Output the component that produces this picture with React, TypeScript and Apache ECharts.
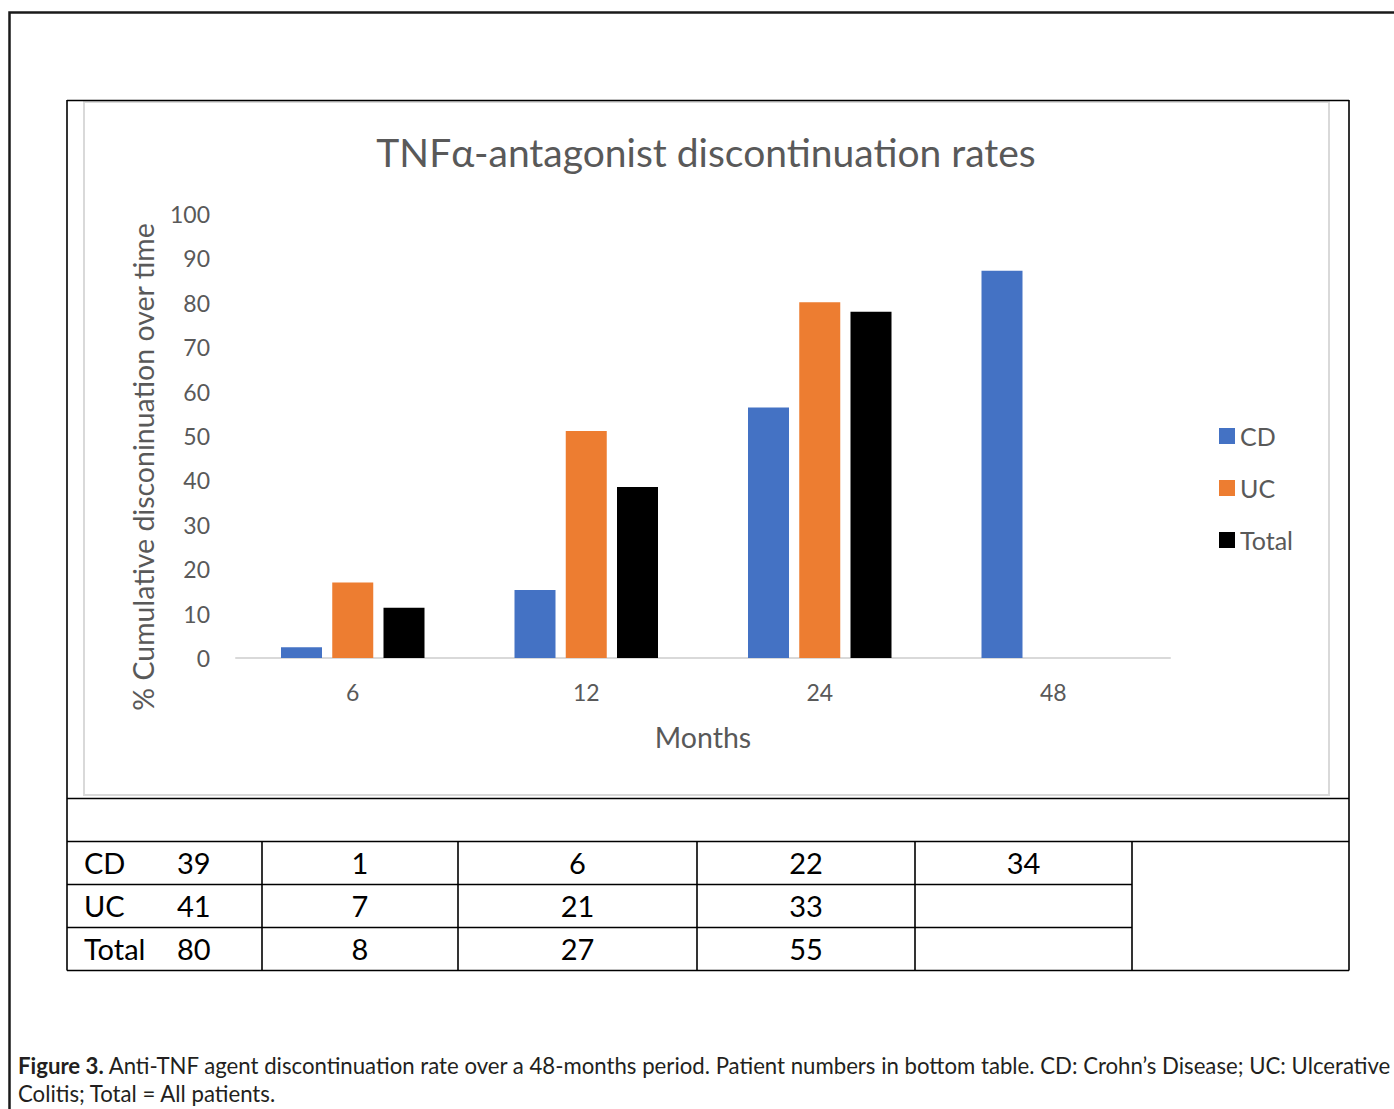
import React, { useEffect, useRef } from "react";
import * as echarts from "echarts";

// ---- data ----
const months = ["6", "12", "24", "48"];
const cdRates = [2.4, 15.3, 56.4, 87.2];
const ucRates = [17.0, 51.1, 80.1, null];
const totalRates = [11.3, 38.5, 78.0, null];

const yTicks = { min: 0, max: 100, interval: 10 };

const tableRowLabels = ["CD", "UC", "Total"];
const tableRowTotals = [39, 41, 80];
const cdCounts = [1, 6, 22, 34];
const ucCounts = [7, 21, 33, null];
const totalCounts = [8, 27, 55, null];

const titleText = "TNF\u03b1-antagonist discontinuation rates";
const yAxisName = "% Cumulative disconinuation over time";
const xAxisName = "Months";
const captionBold = "Figure 3.";
const captionLine1 =
  " Anti-TNF agent discontinuation rate over a 48-months period. Patient numbers in bottom table. CD: Crohn\u2019s Disease; UC: Ulcerative";
const captionLine2 = "Colitis; Total = All patients.";

const CHART_FONT = "Lato";
const GRAY = "#595959";

export default function App() {
  const ref = useRef<HTMLDivElement>(null);

  useEffect(() => {
    if (!ref.current) return;
    const chart = echarts.init(ref.current, null, { renderer: "svg" });

    const black = "#000000";
    const line = (x1: number, y1: number, x2: number, y2: number, w = 1.6, c = black) => ({
      type: "line",
      shape: { x1, y1, x2, y2 },
      style: { stroke: c, lineWidth: w },
      silent: true,
      z: 1,
    });
    const text = (t: string, x: number, y: number, align: string, size: number, color = black, font = CHART_FONT) => ({
      type: "text",
      x,
      y,
      style: { text: t, fontSize: size, fontFamily: font, fill: color, align, verticalAlign: "middle" },
      silent: true,
      z: 2,
    });

    const colX = [67, 262, 458, 697, 915, 1132, 1349];
    const rowY = [841, 884, 927, 970];
    const countRows = [cdCounts, ucCounts, totalCounts];

    const graphics: any[] = [
      // outer frame
      { type: "rect", shape: { x: 9.5, y: 12.5, width: 1420, height: 1200 }, style: { fill: "none", stroke: "#1a1a1a", lineWidth: 2.5 }, silent: true, z: 0 },
      // light gray chart area border
      { type: "rect", shape: { x: 84, y: 102, width: 1245, height: 693 }, style: { fill: "none", stroke: "#d9d9d9", lineWidth: 2 }, silent: true, z: 0 },
      // black box
      line(67, 100.5, 1349, 100.5),
      line(67, 100, 67, 970.5),
      line(1349, 100, 1349, 970.5),
      line(67, 798.5, 1349, 798.5),
      line(67, 841.5, 1349, 841.5),
      line(67, 884.5, 1132, 884.5),
      line(67, 927.5, 1132, 927.5),
      line(67, 970.5, 1349, 970.5),
      line(262, 841, 262, 970.5),
      line(458, 841, 458, 970.5),
      line(697, 841, 697, 970.5),
      line(915, 841, 915, 970.5),
      line(1132, 841, 1132, 970.5),
    ];

    for (let r = 0; r < tableRowLabels.length; r++) {
      const cy = (rowY[r] + rowY[r + 1]) / 2;
      graphics.push(text(tableRowLabels[r], 84, cy, "left", 29));
      graphics.push(text(String(tableRowTotals[r]), 177, cy, "left", 29));
      const counts = countRows[r];
      for (let c = 0; c < counts.length; c++) {
        const v = counts[c];
        if (v === null || v === undefined) continue;
        graphics.push(text(String(v), (colX[c + 1] + colX[c + 2]) / 2, cy, "center", 29));
      }
    }

    // caption
    graphics.push({
      type: "text",
      x: 18,
      y: 1065,
      style: {
        text: "{b|" + captionBold + "}" + captionLine1,
        fontSize: 22.2,
        fontFamily: CHART_FONT,
        fill: "#231f20",
        align: "left",
        verticalAlign: "middle",
        rich: { b: { fontWeight: "bold", fontSize: 22.2, fontFamily: CHART_FONT, fill: "#231f20" } },
      },
      silent: true,
      z: 2,
    });
    graphics.push(text(captionLine2, 18, 1093, "left", 22.2, "#231f20"));

    chart.setOption({
      animation: false,
      backgroundColor: "#ffffff",
      title: {
        text: titleText,
        left: 706,
        textAlign: "center",
        top: 130,
        padding: 0,
        textStyle: { fontFamily: CHART_FONT, fontSize: 39, fontWeight: "normal", color: GRAY, lineHeight: 44 },
      },
      legend: {
        orient: "vertical",
        left: 1219,
        top: 423,
        padding: 0,
        icon: "rect",
        itemWidth: 16,
        itemHeight: 16,
        itemGap: 26,
        textStyle: { fontFamily: CHART_FONT, fontSize: 25, color: GRAY, lineHeight: 26 },
        data: ["CD", "UC", "Total"],
      },
      grid: { left: 236, right: 224, top: 214, bottom: 451, containLabel: false },
      xAxis: {
        type: "category",
        data: months,
        axisLine: { show: true, lineStyle: { color: "#d9d9d9", width: 2 } },
        axisTick: { show: false },
        axisLabel: { fontFamily: CHART_FONT, fontSize: 23, color: GRAY, margin: 22 },
        name: xAxisName,
        nameLocation: "middle",
        nameGap: 64,
        nameTextStyle: { fontFamily: CHART_FONT, fontSize: 28.5, color: GRAY },
      },
      yAxis: {
        type: "value",
        min: yTicks.min,
        max: yTicks.max,
        interval: yTicks.interval,
        axisLine: { show: false },
        axisTick: { show: false },
        splitLine: { show: false },
        axisLabel: { fontFamily: CHART_FONT, fontSize: 23, color: GRAY, margin: 26 },
        name: yAxisName,
        nameLocation: "middle",
        nameGap: 79,
        nameTextStyle: { fontFamily: CHART_FONT, fontSize: 28.5, color: GRAY, padding: [0, 62, 0, 0] },
      },
      series: [
        { name: "CD", type: "bar", data: cdRates, barWidth: 41, barGap: "25%", itemStyle: { color: "#4472C4" } },
        { name: "UC", type: "bar", data: ucRates, barWidth: 41, barGap: "25%", itemStyle: { color: "#ED7D31" } },
        { name: "Total", type: "bar", data: totalRates, barWidth: 41, barGap: "25%", itemStyle: { color: "#000000" } },
      ],
      graphic: graphics,
    });

    return () => chart.dispose();
  }, []);

  return (
    <div style={{ position: "absolute", left: 0, top: 0, width: 1394, height: 1109, background: "#fff" }}>
      <div ref={ref} style={{ width: 1394, height: 1109 }} />
    </div>
  );
}
